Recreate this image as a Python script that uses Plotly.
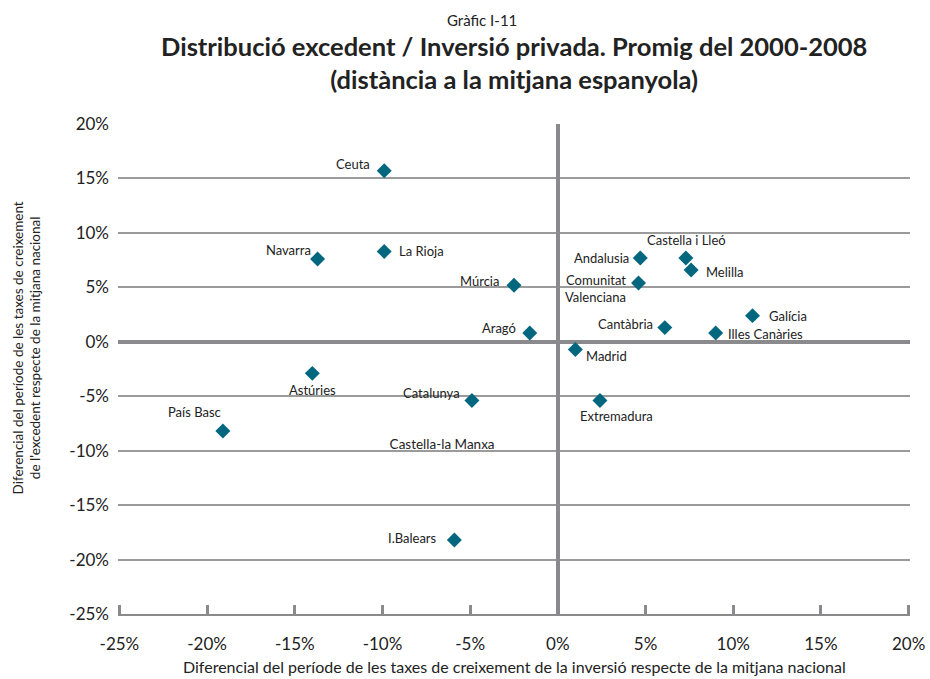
import plotly.graph_objects as go

# ---- data (percentage points vs. Spanish average) ----
regions = ["Ceuta", "Navarra", "La Rioja", "Múrcia", "Aragó", "Andalusia",
           "Castella i Lleó", "Melilla", "Comunitat<br>Valenciana", "Galícia",
           "Cantàbria", "Illes Canàries", "Madrid", "Astúries", "Catalunya",
           "País Basc", "I.Balears", "Extremadura"]
inv_diff = [-9.9, -13.7, -9.9, -2.5, -1.6, 4.7, 7.3, 7.6, 4.6, 11.1,
            6.1, 9.0, 1.0, -14.0, -4.9, -19.1, -5.9, 2.4]
exc_diff = [15.7, 7.6, 8.3, 5.2, 0.8, 7.7, 7.7, 6.6, 5.4, 2.4,
            1.3, 0.8, -0.7, -2.9, -5.4, -8.2, -18.2, -5.4]

# label without visible marker
extra_label = ["Castella-la Manxa"]
extra_x = [-6.6]
extra_y = [-9.5]

x_ticks = [-25, -20, -15, -10, -5, 0, 5, 10, 15, 20]
x_tick_labels = ["-25%", "-20%", "-15%", "-10%", "-5%", "0%", "5%", "10%", "15%", "20%"]
y_ticks = [-25, -20, -15, -10, -5, 0, 5, 10, 15, 20]
y_tick_labels = ["-25%", "-20%", "-15%", "-10%", "-5%", "0%", "5%", "10%", "15%", "20%"]

# ---- label placement styles (anchor, xshift px, yshift px) ----
label_style = {
    "Ceuta": ("right", "middle", -12, 7),
    "Navarra": ("right", "middle", -5, 9),
    "La Rioja": ("left", "middle", 13, 0),
    "Múrcia": ("right", "middle", -13, 4),
    "Aragó": ("right", "middle", -12, 5),
    "Andalusia": ("right", "middle", -9, 0),
    "Castella i Lleó": ("center", "middle", 1, 18),
    "Melilla": ("left", "middle", 13, -2),
    "Comunitat<br>Valenciana": ("right", "middle", -11, -6),
    "Galícia": ("left", "middle", 14, 0),
    "Cantàbria": ("right", "middle", -10, 4),
    "Illes Canàries": ("left", "middle", 10, -1),
    "Madrid": ("left", "middle", 9, -7),
    "Astúries": ("center", "middle", 0, -17),
    "Catalunya": ("right", "middle", -10, 8),
    "País Basc": ("right", "middle", 0, 19),
    "I.Balears": ("right", "middle", -15, 2),
    "Extremadura": ("center", "middle", 17, -15),
}

FONT = "Lato, 'Open Sans', sans-serif"
TXT = "#222222"
GRID = "#9b9b9b"
AXIS = "#8a8a8c"
MARK = "#00677f"

fig = go.Figure()
fig.add_trace(go.Scatter(
    x=inv_diff, y=exc_diff, mode="markers",
    marker=dict(symbol="diamond", size=11.5, color=MARK, line=dict(width=0)),
    text=regions, hoverinfo="text", showlegend=False,
))
fig.add_trace(go.Scatter(
    x=extra_x, y=extra_y, mode="text", text=extra_label,
    textfont=dict(family=FONT, size=13.5, color=TXT),
    textposition="middle center", showlegend=False, hoverinfo="skip",
))

annotations = []
for name, xv, yv in zip(regions, inv_diff, exc_diff):
    xa, ya, dx, dy = label_style[name]
    annotations.append(dict(
        x=xv, y=yv, xref="x", yref="y", text=name, showarrow=False,
        xanchor=xa, yanchor=ya, xshift=dx, yshift=dy, align="right",
        font=dict(family=FONT, size=13, color=TXT),
    ))

# titles
annotations += [
    dict(text="Gràfic I-11", xref="paper", yref="paper", x=0.4596, y=1.212,
         showarrow=False, xanchor="center", yanchor="middle",
         font=dict(family=FONT, size=15, color=TXT)),
    dict(text="<b>Distribució excedent / Inversió privada. Promig del 2000-2008</b><br>"
              "<b>(distància a la mitjana espanyola)</b>",
         xref="paper", yref="paper", x=0.5, y=1.1265, showarrow=False,
         xanchor="center", yanchor="middle", align="center",
         font=dict(family=FONT, size=25.5, color=TXT)),
    dict(text="Diferencial del període de les taxes de creixement de la inversió respecte de la mitjana nacional",
         xref="paper", yref="paper", x=0.5, y=-0.108, showarrow=False,
         xanchor="center", yanchor="middle",
         font=dict(family=FONT, size=16, color=TXT)),
    dict(text="Diferencial del període de les taxes de creixement<br>de l'excedent respecte de la mitjana nacional",
         xref="paper", yref="paper", x=0, y=0.543, xshift=-91.5, showarrow=False,
         xanchor="center", yanchor="middle", textangle=-90,
         font=dict(family=FONT, size=13.5, color=TXT)),
]

fig.update_layout(
    width=930, height=679,
    margin=dict(l=118, r=20, t=124, b=65, autoexpand=False),
    paper_bgcolor="white", plot_bgcolor="white",
    annotations=annotations,
    xaxis=dict(
        range=[-25.08, 20.08], tickvals=x_ticks, ticktext=x_tick_labels,
        showgrid=False, zeroline=True, zerolinecolor=AXIS, zerolinewidth=4,
        showline=True, linecolor=AXIS, linewidth=2, mirror=False,
        ticks="inside", ticklen=9, tickwidth=3, tickcolor=AXIS,
        ticklabelstandoff=14, automargin=False,
        tickfont=dict(family=FONT, size=17, color=TXT),
    ),
    yaxis=dict(
        range=[-25, 20], tickvals=y_ticks, ticktext=y_tick_labels,
        showgrid=True, gridcolor=GRID, gridwidth=1.5,
        zeroline=True, zerolinecolor=AXIS, zerolinewidth=4,
        showline=False, ticks="", ticklabelstandoff=8, automargin=False,
        tickfont=dict(family=FONT, size=17, color=TXT),
    ),
)

fig.write_html("out.html", config={"displayModeBar": False},
               post_script="document.body.style.margin='0';document.body.style.padding='0';")
